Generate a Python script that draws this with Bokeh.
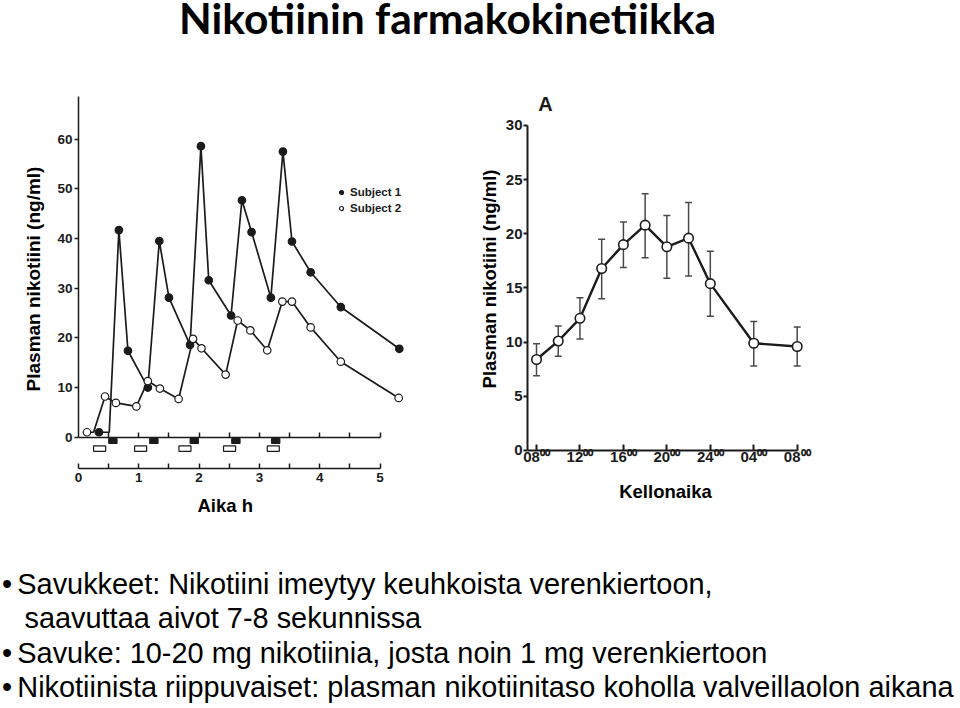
from bokeh.plotting import figure
from bokeh.layouts import column, row
from bokeh.models import (Range1d, LinearAxis, FixedTicker, Legend, LegendItem, Title,
                          Whisker, TeeHead, ColumnDataSource, CDSView, IndexFilter,
                          GlobalInlineStyleSheet)
from bokeh.core.properties import value
from bokeh.embed import file_html
from bokeh.resources import INLINE

# ---------------- data ----------------
title_text = "Nikotiinin farmakokinetiikka"

# left panel: plasma nicotine of two subjects (h, ng/ml)
s1_t = [0.34, 0.51, 0.67, 0.82, 1.15, 1.34, 1.50, 1.85, 2.03, 2.16, 2.53, 2.71, 2.87, 3.19, 3.39, 3.54, 3.85, 4.35, 5.32]
s1_c = [1.0, 1.0, 41.7, 17.4, 10.0, 39.5, 28.1, 18.6, 58.6, 31.6, 24.5, 47.7, 41.3, 28.1, 57.5, 39.4, 33.2, 26.2, 17.8]
s1_unmarked = [1]
s2_t = [0.14, 0.25, 0.44, 0.62, 0.96, 1.15, 1.35, 1.66, 1.90, 2.04, 2.44, 2.64, 2.85, 3.13, 3.38, 3.54, 3.85, 4.35, 5.31]
s2_c = [1.0, 1.0, 8.2, 6.9, 6.2, 11.3, 9.8, 7.7, 19.8, 17.9, 12.6, 23.5, 21.5, 17.5, 27.3, 27.3, 22.1, 15.2, 7.9]
s2_unmarked = [1]
cig1_t = [0.57, 1.25, 1.92, 2.61, 3.27]      # filled bars (subject 1 cigarettes)
cig2_t = [0.35, 1.03, 1.765, 2.505, 3.23]    # open bars (subject 2 cigarettes)
left_x_ticks = [0, 1, 2, 3, 4, 5]
left_x_minor = [0.5, 1.5, 2.5, 3.5, 4.5]
left_y_ticks = [0, 10, 20, 30, 40, 50, 60]
left_ylabel = "Plasman nikotiini (ng/ml)"
left_xlabel = "Aika h"
legend_labels = ["Subject 1", "Subject 2"]

# right panel: mean plasma nicotine over the day
r_hours = [8, 10, 12, 14, 16, 18, 20, 22, 24, 28, 32]
r_mean = [8.4, 10.1, 12.2, 16.8, 19.0, 20.8, 18.8, 19.6, 15.4, 9.9, 9.6]
r_upper = [9.85, 11.5, 14.1, 19.5, 21.1, 23.7, 21.7, 22.9, 18.4, 11.9, 11.4]
r_lower = [6.9, 8.7, 10.3, 14.0, 16.9, 17.8, 15.9, 16.1, 12.4, 7.8, 7.8]
right_x_ticks = [8, 12, 16, 20, 24, 28, 32]
right_x_labels = ["08\u2070\u2070", "12\u2070\u2070", "16\u2070\u2070", "20\u2070\u2070",
                  "24\u2070\u2070", "04\u2070\u2070", "08\u2070\u2070"]
right_y_ticks = [0, 5, 10, 15, 20, 25, 30]
right_ylabel = "Plasman nikotiini (ng/ml)"
right_xlabel = "Kellonaika"
panel_letter = "A"

bullet_lines = [
    "Savukkeet: Nikotiini imeytyy keuhkoista verenkiertoon,",
    "saavuttaa aivot 7-8 sekunnissa",
    "Savuke: 10-20 mg nikotiinia, josta noin 1 mg verenkiertoon",
    "Nikotiinista riippuvaiset: plasman nikotiinitaso koholla valveillaolon aikana",
]
bullet_flags = [True, False, True, True]

# ---------------- style ----------------
INK = "#1b1b1b"
SANS = "Liberation Sans"


def blank(fig):
    fig.outline_line_color = None
    fig.grid.visible = False
    fig.background_fill_color = "white"
    fig.border_fill_color = "white"


# ---------------- title ----------------
pt = figure(width=960, height=52, x_range=Range1d(0, 960), y_range=Range1d(52, 0),
            x_axis_location=None, y_axis_location=None, min_border=0, title=None,
            output_backend="svg", toolbar_location=None)
blank(pt)
pt.text(x=[447], y=[17], text=[title_text], text_align="center", text_baseline="alphabetic",
        text_font=value("Lato"), text_font_style="bold", text_font_size="42.5px", text_color="black")

# ---------------- left panel ----------------
# both panels share frame top (y=89) and bottom (y=468) because the row aligns them
pl = figure(width=474, height=488, x_range=Range1d(0, 6.567), y_range=Range1d(-6.3, 70),
            min_border_left=78, min_border_right=0, min_border_top=37, min_border_bottom=72,
            title=None, output_backend="svg", toolbar_location=None)
blank(pl)

xa = pl.xaxis[0]
xa.ticker = FixedTicker(ticks=left_x_ticks, minor_ticks=left_x_minor)
xa.bounds = (0, 5)
xa.major_tick_in = 5
xa.major_tick_out = 0
xa.minor_tick_in = 5
xa.minor_tick_out = 0
xa.minor_tick_line_color = INK
xa.major_tick_line_color = INK
xa.axis_line_color = INK
xa.axis_line_width = 1.5
xa.major_tick_line_width = 1.5
xa.minor_tick_line_width = 1.5
xa.major_label_text_font = SANS
xa.major_label_text_font_style = "bold"
xa.major_label_text_font_size = "13.5px"
xa.major_label_text_color = INK
xa.major_label_standoff = 4

zero_axis = LinearAxis(fixed_location=0,
                       ticker=FixedTicker(ticks=left_x_ticks[1:], minor_ticks=left_x_minor),
                       bounds=(0, 5), major_tick_in=5, major_tick_out=0,
                       minor_tick_in=5, minor_tick_out=0,
                       axis_line_color=INK, axis_line_width=1.5,
                       major_tick_line_color=INK, minor_tick_line_color=INK,
                       major_tick_line_width=1.5, minor_tick_line_width=1.5,
                       major_label_text_color=None, major_label_text_font_size="1px",
                       major_label_standoff=0)
pl.add_layout(zero_axis, "below")

ya = pl.yaxis[0]
ya.ticker = FixedTicker(ticks=left_y_ticks)
ya.bounds = (0, 68.6)
ya.major_tick_out = 4
ya.major_tick_in = 0
ya.axis_line_color = INK
ya.axis_line_width = 1.5
ya.major_tick_line_color = INK
ya.major_tick_line_width = 1.5
ya.major_label_text_font = SANS
ya.major_label_text_font_style = "bold"
ya.major_label_text_font_size = "13.5px"
ya.major_label_text_color = INK
ya.major_label_standoff = 2
ya.axis_label = left_ylabel
ya.axis_label_text_font = SANS
ya.axis_label_text_font_style = "bold"
ya.axis_label_text_font_size = "19px"
ya.axis_label_text_color = "black"
ya.axis_label_standoff = 10

pl.rect(x=cig1_t, y=-0.77, width=0.14, height=1.0, fill_color=INK, line_color=INK)
pl.rect(x=cig2_t, y=-2.3, width=0.2, height=1.07, fill_color="white", line_color=INK, line_width=1.2)

src1 = ColumnDataSource(dict(t=s1_t, c=s1_c))
src2 = ColumnDataSource(dict(t=s2_t, c=s2_c))
pl.line("t", "c", source=src1, line_color=INK, line_width=1.7)
pl.line("t", "c", source=src2, line_color=INK, line_width=1.7)
v1 = CDSView(filter=IndexFilter([i for i in range(len(s1_t)) if i not in s1_unmarked]))
v2 = CDSView(filter=IndexFilter([i for i in range(len(s2_t)) if i not in s2_unmarked]))
sc1 = pl.scatter("t", "c", source=src1, view=v1, marker="circle", size=7.5,
                 fill_color=INK, line_color=INK, line_width=1.2)
sc2 = pl.scatter("t", "c", source=src2, view=v2, marker="circle", size=7.5,
                 fill_color="white", line_color=INK, line_width=1.2)

legend = Legend(items=[LegendItem(label=legend_labels[0], renderers=[sc1]),
                       LegendItem(label=legend_labels[1], renderers=[sc2])],
                location=(258, 254), padding=0, margin=0, spacing=4,
                glyph_width=10, glyph_height=12, label_height=12, label_standoff=4,
                label_text_font=SANS, label_text_font_style="bold",
                label_text_font_size="11.5px", label_text_color=INK,
                background_fill_alpha=0, border_line_color=None)
pl.add_layout(legend)

pl.add_layout(Title(text=left_xlabel, align="left", offset=119, standoff=17,
                    text_font=SANS, text_font_style="bold", text_font_size="18.5px",
                    text_color="black"), "below")

# ---------------- right panel ----------------
pr = figure(width=486, height=488, x_range=Range1d(7.17, 32.58), y_range=Range1d(-1.662, 33.32),
            min_border_left=53, min_border_right=157, min_border_top=37, min_border_bottom=72,
            title=None, output_backend="svg", toolbar_location=None)
blank(pr)

# labelled axis sits on the frame edge; its labels are pulled up under the y=0 line
rx = pr.xaxis[0]
rx.ticker = FixedTicker(ticks=right_x_ticks)
rx.major_label_overrides = {t: lab for t, lab in zip(right_x_ticks, right_x_labels)}
rx.axis_line_color = None
rx.major_tick_line_color = None
rx.minor_tick_line_color = None
rx.major_tick_in = 0
rx.major_tick_out = 0
rx.major_label_text_font = SANS
rx.major_label_text_font_style = "bold"
rx.major_label_text_font_size = "15px"
rx.major_label_text_color = INK
rx.major_label_standoff = -21
rx.axis_label = right_xlabel
rx.axis_label_text_font = SANS
rx.axis_label_text_font_style = "bold"
rx.axis_label_text_font_size = "18.5px"
rx.axis_label_text_color = "black"
rx.axis_label_standoff = 13

r_zero_axis = LinearAxis(fixed_location=0, ticker=FixedTicker(ticks=right_x_ticks),
                         bounds=(7.17, 32), major_tick_in=6, major_tick_out=0,
                         axis_line_color=INK, axis_line_width=2,
                         major_tick_line_color=INK, major_tick_line_width=2,
                         major_label_text_color=None, major_label_text_font_size="1px",
                         major_label_standoff=0)
pr.add_layout(r_zero_axis, "below")

ry = pr.yaxis[0]
ry.ticker = FixedTicker(ticks=right_y_ticks)
ry.bounds = (0, 30)
ry.major_tick_out = 4
ry.major_tick_in = 0
ry.axis_line_color = INK
ry.axis_line_width = 2
ry.major_tick_line_color = INK
ry.major_tick_line_width = 2
ry.major_label_text_font = SANS
ry.major_label_text_font_style = "bold"
ry.major_label_text_font_size = "15px"
ry.major_label_text_color = INK
ry.major_label_standoff = 1
ry.axis_label = right_ylabel
ry.axis_label_text_font = SANS
ry.axis_label_text_font_style = "bold"
ry.axis_label_text_font_size = "18.5px"
ry.axis_label_text_color = "black"
ry.axis_label_standoff = 3

rsrc = ColumnDataSource(dict(h=r_hours, m=r_mean, up=r_upper, lo=r_lower))
pr.add_layout(Whisker(base="h", upper="up", lower="lo", source=rsrc,
                      line_color="#4a4a4a", line_width=1.5,
                      upper_head=TeeHead(size=7, line_color="#4a4a4a", line_width=1.5),
                      lower_head=TeeHead(size=7, line_color="#4a4a4a", line_width=1.5)))
pr.line("h", "m", source=rsrc, line_color=INK, line_width=2.4)
pr.scatter("h", "m", source=rsrc, marker="circle", size=9.5, fill_color="white",
           line_color=INK, line_width=1.6)
pr.text(x=[8.83], y=[31.95], text=[panel_letter], text_align="center", text_baseline="middle",
        text_font=value(SANS), text_font_style="bold", text_font_size="20px", text_color=INK)

# ---------------- bullet text ----------------
pb = figure(width=960, height=168, x_range=Range1d(0, 960), y_range=Range1d(168, 0),
            x_axis_location=None, y_axis_location=None, min_border=0, title=None,
            output_backend="svg", toolbar_location=None)
blank(pb)
first_base, pitch = 43.5, 34.3
ys = [first_base + i * pitch for i in range(len(bullet_lines))]
xs = [16.8 if f else 24.0 for f in bullet_flags]
pb.text(x=xs, y=ys, text=bullet_lines, text_align="left", text_baseline="alphabetic",
        text_font=value(SANS), text_font_size="28.9px", text_color="black")
bx = [1.6 for f in bullet_flags if f]
by = [y for y, f in zip(ys, bullet_flags) if f]
pb.text(x=bx, y=by, text=["\u2022"] * len(bx), text_align="left", text_baseline="alphabetic",
        text_font=value(SANS), text_font_size="28.9px", text_color="black")

layout = column(pt, row(pl, pr), pb,
                stylesheets=[GlobalInlineStyleSheet(css="html, body { margin: 0 !important; padding: 0 !important; overflow: hidden; }")])

open("out.html", "w").write(file_html(layout, INLINE))
